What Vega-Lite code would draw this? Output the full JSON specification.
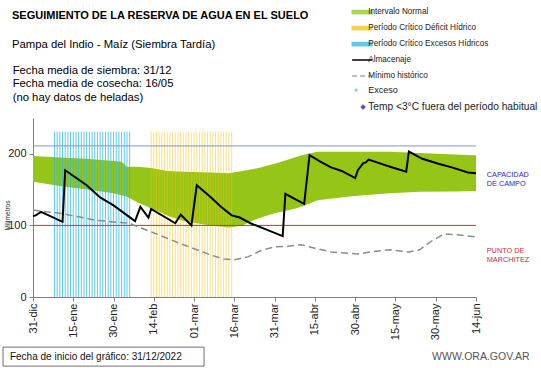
{
  "$schema": "https://vega.github.io/schema/vega-lite/v6.json",
  "width": 443,
  "height": 179,
  "autosize": {"type": "none"},
  "padding": {"left": 33, "top": 118, "right": 65, "bottom": 71},
  "background": "white",
  "title": {
    "text": "SEGUIMIENTO DE LA RESERVA DE AGUA  EN EL SUELO",
    "subtitle": "Pampa del Indio - Maíz  (Siembra Tardía)",
    "anchor": "start",
    "frame": "group",
    "dx": -21,
    "offset": -42,
    "font": "Liberation Sans",
    "fontSize": 11,
    "fontWeight": "bold",
    "color": "#000000",
    "subtitleFont": "Liberation Sans",
    "subtitleFontSize": 11.3,
    "subtitleColor": "#000000",
    "subtitleLineHeight": 13.3,
    "subtitlePadding": 18
  },
  "datasets": {
    "banda": [
      {"fecha": "2022-12-31", "min": 161, "max": 197, "serie": "Intervalo Normal"},
      {"fecha": "2023-01-10", "min": 155, "max": 195, "serie": "Intervalo Normal"},
      {"fecha": "2023-01-20", "min": 150, "max": 193, "serie": "Intervalo Normal"},
      {"fecha": "2023-01-30", "min": 145, "max": 190, "serie": "Intervalo Normal"},
      {"fecha": "2023-02-02", "min": 142, "max": 189, "serie": "Intervalo Normal"},
      {"fecha": "2023-02-04", "min": 140, "max": 182, "serie": "Intervalo Normal"},
      {"fecha": "2023-02-08", "min": 132, "max": 182, "serie": "Intervalo Normal"},
      {"fecha": "2023-02-13", "min": 124, "max": 180, "serie": "Intervalo Normal"},
      {"fecha": "2023-02-19", "min": 114, "max": 176, "serie": "Intervalo Normal"},
      {"fecha": "2023-02-25", "min": 106, "max": 175, "serie": "Intervalo Normal"},
      {"fecha": "2023-03-07", "min": 100, "max": 174, "serie": "Intervalo Normal"},
      {"fecha": "2023-03-14", "min": 97, "max": 173, "serie": "Intervalo Normal"},
      {"fecha": "2023-03-19", "min": 100, "max": 176, "serie": "Intervalo Normal"},
      {"fecha": "2023-03-25", "min": 110, "max": 180, "serie": "Intervalo Normal"},
      {"fecha": "2023-03-31", "min": 117, "max": 186, "serie": "Intervalo Normal"},
      {"fecha": "2023-04-06", "min": 122, "max": 193, "serie": "Intervalo Normal"},
      {"fecha": "2023-04-10", "min": 126, "max": 198, "serie": "Intervalo Normal"},
      {"fecha": "2023-04-16", "min": 135, "max": 203, "serie": "Intervalo Normal"},
      {"fecha": "2023-04-27", "min": 140, "max": 203, "serie": "Intervalo Normal"},
      {"fecha": "2023-05-03", "min": 142, "max": 203, "serie": "Intervalo Normal"},
      {"fecha": "2023-05-13", "min": 145, "max": 203, "serie": "Intervalo Normal"},
      {"fecha": "2023-05-24", "min": 147, "max": 201, "serie": "Intervalo Normal"},
      {"fecha": "2023-06-06", "min": 147.5, "max": 199, "serie": "Intervalo Normal"},
      {"fecha": "2023-06-14", "min": 148, "max": 198, "serie": "Intervalo Normal"}
    ],
    "periodos": [
      {"fecha": "2023-01-08", "serie": "Período Crítico Excesos Hídricos"},
      {"fecha": "2023-01-09", "serie": "Período Crítico Excesos Hídricos"},
      {"fecha": "2023-01-10", "serie": "Período Crítico Excesos Hídricos"},
      {"fecha": "2023-01-11", "serie": "Período Crítico Excesos Hídricos"},
      {"fecha": "2023-01-12", "serie": "Período Crítico Excesos Hídricos"},
      {"fecha": "2023-01-13", "serie": "Período Crítico Excesos Hídricos"},
      {"fecha": "2023-01-14", "serie": "Período Crítico Excesos Hídricos"},
      {"fecha": "2023-01-15", "serie": "Período Crítico Excesos Hídricos"},
      {"fecha": "2023-01-16", "serie": "Período Crítico Excesos Hídricos"},
      {"fecha": "2023-01-17", "serie": "Período Crítico Excesos Hídricos"},
      {"fecha": "2023-01-18", "serie": "Período Crítico Excesos Hídricos"},
      {"fecha": "2023-01-19", "serie": "Período Crítico Excesos Hídricos"},
      {"fecha": "2023-01-20", "serie": "Período Crítico Excesos Hídricos"},
      {"fecha": "2023-01-21", "serie": "Período Crítico Excesos Hídricos"},
      {"fecha": "2023-01-22", "serie": "Período Crítico Excesos Hídricos"},
      {"fecha": "2023-01-23", "serie": "Período Crítico Excesos Hídricos"},
      {"fecha": "2023-01-24", "serie": "Período Crítico Excesos Hídricos"},
      {"fecha": "2023-01-25", "serie": "Período Crítico Excesos Hídricos"},
      {"fecha": "2023-01-26", "serie": "Período Crítico Excesos Hídricos"},
      {"fecha": "2023-01-27", "serie": "Período Crítico Excesos Hídricos"},
      {"fecha": "2023-01-28", "serie": "Período Crítico Excesos Hídricos"},
      {"fecha": "2023-01-29", "serie": "Período Crítico Excesos Hídricos"},
      {"fecha": "2023-01-30", "serie": "Período Crítico Excesos Hídricos"},
      {"fecha": "2023-01-31", "serie": "Período Crítico Excesos Hídricos"},
      {"fecha": "2023-02-01", "serie": "Período Crítico Excesos Hídricos"},
      {"fecha": "2023-02-02", "serie": "Período Crítico Excesos Hídricos"},
      {"fecha": "2023-02-03", "serie": "Período Crítico Excesos Hídricos"},
      {"fecha": "2023-02-04", "serie": "Período Crítico Excesos Hídricos"},
      {"fecha": "2023-02-05", "serie": "Período Crítico Excesos Hídricos"},
      {"fecha": "2023-02-13", "serie": "Período Crítico Déficit Hídrico"},
      {"fecha": "2023-02-14", "serie": "Período Crítico Déficit Hídrico"},
      {"fecha": "2023-02-15", "serie": "Período Crítico Déficit Hídrico"},
      {"fecha": "2023-02-16", "serie": "Período Crítico Déficit Hídrico"},
      {"fecha": "2023-02-17", "serie": "Período Crítico Déficit Hídrico"},
      {"fecha": "2023-02-18", "serie": "Período Crítico Déficit Hídrico"},
      {"fecha": "2023-02-19", "serie": "Período Crítico Déficit Hídrico"},
      {"fecha": "2023-02-20", "serie": "Período Crítico Déficit Hídrico"},
      {"fecha": "2023-02-21", "serie": "Período Crítico Déficit Hídrico"},
      {"fecha": "2023-02-22", "serie": "Período Crítico Déficit Hídrico"},
      {"fecha": "2023-02-23", "serie": "Período Crítico Déficit Hídrico"},
      {"fecha": "2023-02-24", "serie": "Período Crítico Déficit Hídrico"},
      {"fecha": "2023-02-25", "serie": "Período Crítico Déficit Hídrico"},
      {"fecha": "2023-02-26", "serie": "Período Crítico Déficit Hídrico"},
      {"fecha": "2023-02-27", "serie": "Período Crítico Déficit Hídrico"},
      {"fecha": "2023-02-28", "serie": "Período Crítico Déficit Hídrico"},
      {"fecha": "2023-03-01", "serie": "Período Crítico Déficit Hídrico"},
      {"fecha": "2023-03-02", "serie": "Período Crítico Déficit Hídrico"},
      {"fecha": "2023-03-03", "serie": "Período Crítico Déficit Hídrico"},
      {"fecha": "2023-03-04", "serie": "Período Crítico Déficit Hídrico"},
      {"fecha": "2023-03-05", "serie": "Período Crítico Déficit Hídrico"},
      {"fecha": "2023-03-06", "serie": "Período Crítico Déficit Hídrico"},
      {"fecha": "2023-03-07", "serie": "Período Crítico Déficit Hídrico"},
      {"fecha": "2023-03-08", "serie": "Período Crítico Déficit Hídrico"},
      {"fecha": "2023-03-09", "serie": "Período Crítico Déficit Hídrico"},
      {"fecha": "2023-03-10", "serie": "Período Crítico Déficit Hídrico"},
      {"fecha": "2023-03-11", "serie": "Período Crítico Déficit Hídrico"},
      {"fecha": "2023-03-12", "serie": "Período Crítico Déficit Hídrico"},
      {"fecha": "2023-03-13", "serie": "Período Crítico Déficit Hídrico"},
      {"fecha": "2023-03-14", "serie": "Período Crítico Déficit Hídrico"},
      {"fecha": "2023-03-15", "serie": "Período Crítico Déficit Hídrico"}
    ],
    "minimo": [
      {"fecha": "2022-12-31", "valor": 121.5, "serie": "Mínimo histórico"},
      {"fecha": "2023-01-05", "valor": 119, "serie": "Mínimo histórico"},
      {"fecha": "2023-01-10", "valor": 117, "serie": "Mínimo histórico"},
      {"fecha": "2023-01-17", "valor": 112, "serie": "Mínimo histórico"},
      {"fecha": "2023-01-23", "valor": 107.5, "serie": "Mínimo histórico"},
      {"fecha": "2023-02-01", "valor": 104, "serie": "Mínimo histórico"},
      {"fecha": "2023-02-05", "valor": 103, "serie": "Mínimo histórico"},
      {"fecha": "2023-02-08", "valor": 98, "serie": "Mínimo histórico"},
      {"fecha": "2023-02-13", "valor": 91, "serie": "Mínimo histórico"},
      {"fecha": "2023-02-19", "valor": 82, "serie": "Mínimo histórico"},
      {"fecha": "2023-02-25", "valor": 73, "serie": "Mínimo histórico"},
      {"fecha": "2023-03-02", "valor": 66, "serie": "Mínimo histórico"},
      {"fecha": "2023-03-07", "valor": 59, "serie": "Mínimo histórico"},
      {"fecha": "2023-03-12", "valor": 53, "serie": "Mínimo histórico"},
      {"fecha": "2023-03-16", "valor": 52, "serie": "Mínimo histórico"},
      {"fecha": "2023-03-21", "valor": 56, "serie": "Mínimo histórico"},
      {"fecha": "2023-03-26", "valor": 65, "serie": "Mínimo histórico"},
      {"fecha": "2023-03-31", "valor": 70, "serie": "Mínimo histórico"},
      {"fecha": "2023-04-05", "valor": 71, "serie": "Mínimo histórico"},
      {"fecha": "2023-04-10", "valor": 73, "serie": "Mínimo histórico"},
      {"fecha": "2023-04-15", "valor": 68, "serie": "Mínimo histórico"},
      {"fecha": "2023-04-21", "valor": 63, "serie": "Mínimo histórico"},
      {"fecha": "2023-05-01", "valor": 60, "serie": "Mínimo histórico"},
      {"fecha": "2023-05-06", "valor": 63, "serie": "Mínimo histórico"},
      {"fecha": "2023-05-13", "valor": 66, "serie": "Mínimo histórico"},
      {"fecha": "2023-05-20", "valor": 63, "serie": "Mínimo histórico"},
      {"fecha": "2023-05-24", "valor": 66, "serie": "Mínimo histórico"},
      {"fecha": "2023-05-28", "valor": 77, "serie": "Mínimo histórico"},
      {"fecha": "2023-06-02", "valor": 88, "serie": "Mínimo histórico"},
      {"fecha": "2023-06-07", "valor": 87, "serie": "Mínimo histórico"},
      {"fecha": "2023-06-14", "valor": 84, "serie": "Mínimo histórico"}
    ],
    "almacenaje": [
      {"fecha": "2022-12-31", "valor": 113, "serie": "Almacenaje"},
      {"fecha": "2023-01-01", "valor": 114, "serie": "Almacenaje"},
      {"fecha": "2023-01-03", "valor": 119, "serie": "Almacenaje"},
      {"fecha": "2023-01-11", "valor": 105, "serie": "Almacenaje"},
      {"fecha": "2023-01-12", "valor": 177, "serie": "Almacenaje"},
      {"fecha": "2023-01-20", "valor": 156, "serie": "Almacenaje"},
      {"fecha": "2023-01-25", "valor": 139, "serie": "Almacenaje"},
      {"fecha": "2023-01-30", "valor": 128, "serie": "Almacenaje"},
      {"fecha": "2023-02-07", "valor": 106, "serie": "Almacenaje"},
      {"fecha": "2023-02-09", "valor": 126, "serie": "Almacenaje"},
      {"fecha": "2023-02-12", "valor": 111, "serie": "Almacenaje"},
      {"fecha": "2023-02-13", "valor": 123, "serie": "Almacenaje"},
      {"fecha": "2023-02-22", "valor": 103, "serie": "Almacenaje"},
      {"fecha": "2023-02-24", "valor": 115, "serie": "Almacenaje"},
      {"fecha": "2023-02-28", "valor": 100, "serie": "Almacenaje"},
      {"fecha": "2023-03-02", "valor": 156, "serie": "Almacenaje"},
      {"fecha": "2023-03-07", "valor": 140, "serie": "Almacenaje"},
      {"fecha": "2023-03-11", "valor": 126, "serie": "Almacenaje"},
      {"fecha": "2023-03-15", "valor": 114, "serie": "Almacenaje"},
      {"fecha": "2023-03-18", "valor": 111, "serie": "Almacenaje"},
      {"fecha": "2023-03-22", "valor": 103, "serie": "Almacenaje"},
      {"fecha": "2023-03-28", "valor": 94, "serie": "Almacenaje"},
      {"fecha": "2023-04-03", "valor": 85, "serie": "Almacenaje"},
      {"fecha": "2023-04-04", "valor": 144, "serie": "Almacenaje"},
      {"fecha": "2023-04-11", "valor": 130, "serie": "Almacenaje"},
      {"fecha": "2023-04-13", "valor": 198, "serie": "Almacenaje"},
      {"fecha": "2023-04-17", "valor": 189, "serie": "Almacenaje"},
      {"fecha": "2023-04-21", "valor": 181, "serie": "Almacenaje"},
      {"fecha": "2023-04-25", "valor": 176, "serie": "Almacenaje"},
      {"fecha": "2023-04-30", "valor": 166, "serie": "Almacenaje"},
      {"fecha": "2023-05-01", "valor": 177, "serie": "Almacenaje"},
      {"fecha": "2023-05-03", "valor": 187, "serie": "Almacenaje"},
      {"fecha": "2023-05-04", "valor": 188, "serie": "Almacenaje"},
      {"fecha": "2023-05-05", "valor": 192, "serie": "Almacenaje"},
      {"fecha": "2023-05-13", "valor": 182, "serie": "Almacenaje"},
      {"fecha": "2023-05-19", "valor": 175, "serie": "Almacenaje"},
      {"fecha": "2023-05-20", "valor": 203, "serie": "Almacenaje"},
      {"fecha": "2023-05-25", "valor": 193, "serie": "Almacenaje"},
      {"fecha": "2023-05-31", "valor": 186, "serie": "Almacenaje"},
      {"fecha": "2023-06-05", "valor": 181, "serie": "Almacenaje"},
      {"fecha": "2023-06-11", "valor": 174, "serie": "Almacenaje"},
      {"fecha": "2023-06-14", "valor": 173, "serie": "Almacenaje"}
    ]
  },
  "layer": [
    {
      "data": {"name": "banda"},
      "mark": {"type": "area"},
      "encoding": {
        "x": {
          "field": "fecha",
          "type": "temporal",
          "title": null,
          "scale": {
            "type": "utc",
            "nice": false,
            "domain": [
              {"year": 2022, "month": 12, "date": 31, "utc": true},
              {"year": 2023, "month": 6, "date": 14, "utc": true}
            ]
          },
          "axis": {
            "values": [
              {"year": 2022, "month": 12, "date": 31, "utc": true},
              {"year": 2023, "month": 1, "date": 15, "utc": true},
              {"year": 2023, "month": 1, "date": 30, "utc": true},
              {"year": 2023, "month": 2, "date": 14, "utc": true},
              {"year": 2023, "month": 3, "date": 1, "utc": true},
              {"year": 2023, "month": 3, "date": 16, "utc": true},
              {"year": 2023, "month": 3, "date": 31, "utc": true},
              {"year": 2023, "month": 4, "date": 15, "utc": true},
              {"year": 2023, "month": 4, "date": 30, "utc": true},
              {"year": 2023, "month": 5, "date": 15, "utc": true},
              {"year": 2023, "month": 5, "date": 30, "utc": true},
              {"year": 2023, "month": 6, "date": 14, "utc": true}
            ],
            "labelExpr": "utcFormat(datum.value, '%d') + '-' + ['ene','feb','mar','abr','may','jun','jul','ago','sep','oct','nov','dic'][utcmonth(datum.value)]",
            "labelAngle": 270,
            "labelAlign": "right",
            "labelBaseline": "middle",
            "labelFont": "Liberation Sans",
            "labelFontSize": 11,
            "labelColor": "#222222",
            "labelPadding": 2,
            "labelOverlap": false,
            "labelFlush": false,
            "tickSize": 4,
            "tickColor": "#808080",
            "domainColor": "#808080",
            "grid": false
          }
        },
        "y": {
          "field": "min",
          "type": "quantitative",
          "title": "Milímetros",
          "scale": {"domain": [0, 250], "nice": false},
          "axis": {
            "values": [0, 50, 100, 150, 200, 250],
            "grid": false,
            "tickSize": 4,
            "labelPadding": 3,
            "labelFont": "Liberation Sans",
            "labelFontSize": 11,
            "labelColor": "#222222",
            "tickColor": "#808080",
            "domainColor": "#808080",
            "titleFont": "Liberation Sans",
            "titleFontSize": 6.5,
            "titleFontWeight": "normal",
            "titleColor": "#222222",
            "titleAngle": 270,
            "titleAlign": "center",
            "titleBaseline": "middle",
            "titleX": -26,
            "titleY": 97
          }
        },
        "y2": {"field": "max"},
        "color": {
          "field": "serie",
          "type": "nominal",
          "scale": {
            "domain": ["Intervalo Normal", "Período Crítico Déficit Hídrico", "Período Crítico Excesos Hídricos", "Almacenaje", "Mínimo histórico", "Exceso", "Temp <3°C fuera del período habitual"],
            "range": ["#95c617", "#f2c318", "#28b8e8", "#000000", "#8c8c8c", "#33c6e8", "#1f1fa8"]
          },
          "legend": {
            "title": null,
            "orient": "none",
            "legendX": 325,
            "legendY": -110,
            "padding": 0,
            "symbolType": {"expr": "datum.value === 'Exceso' ? 'M-0.69,0A0.09,0.09 0 1,0 -0.51,0A0.09,0.09 0 1,0 -0.69,0Z' : (datum.value === 'Temp <3°C fuera del período habitual' ? 'M0.1,-0.19L0.29,0L0.1,0.19L-0.09,0Z' : (datum.value === 'Almacenaje' || datum.value === 'Mínimo histórico' ? 'M-1,0H1' : 'M-1,-0.18H1V0.18H-1Z'))"},
            "symbolSize": 400,
            "symbolStrokeWidth": {"expr": "datum.value === 'Almacenaje' ? 2 : (datum.value === 'Mínimo histórico' ? 1.5 : 1.2)"},
            "symbolDash": {"expr": "datum.value === 'Mínimo histórico' ? [5, 3] : [1, 0]"},
            "symbolFillColor": {"expr": "scale('color', datum.value)"},
            "symbolStrokeColor": {"expr": "scale('color', datum.value)"},
            "symbolOpacity": 1,
            "labelFont": "Liberation Sans",
            "labelFontSize": {"expr": "datum.value === 'Temp <3°C fuera del período habitual' ? 10.2 : (datum.value === 'Exceso' ? 9 : 8.2)"},
            "labelColor": "#222222",
            "labelOffset": 2,
            "labelLimit": 300,
            "rowPadding": 6
          }
        }
      }
    },
    {
      "data": {"name": "periodos"},
      "mark": {"type": "rule"},
      "encoding": {
        "x": {"field": "fecha", "type": "temporal"},
        "y": {"datum": 0, "type": "quantitative"},
        "y2": {"datum": 231},
        "color": {"field": "serie", "type": "nominal"},
        "opacity": {"condition": {"test": "datum.serie === 'Período Crítico Déficit Hídrico'", "value": 0.5}, "value": 0.75},
        "strokeWidth": {"value": 1}
      }
    },
    {
      "data": {"values": [{}]},
      "mark": {"type": "rule"},
      "encoding": {
        "y": {"datum": 211, "type": "quantitative"},
        "color": {"value": "#7f96cc"},
        "strokeWidth": {"value": 1}
      }
    },
    {
      "data": {"values": [{}]},
      "mark": {"type": "rule"},
      "encoding": {
        "y": {"datum": 100, "type": "quantitative"},
        "color": {"value": "#c0392b"},
        "strokeWidth": {"value": 1}
      }
    },
    {
      "data": {"name": "minimo"},
      "mark": {"type": "line"},
      "encoding": {
        "x": {"field": "fecha", "type": "temporal"},
        "y": {"field": "valor", "type": "quantitative"},
        "color": {"field": "serie", "type": "nominal"},
        "strokeWidth": {"value": 1.5},
        "strokeDash": {"value": [7, 4]}
      }
    },
    {
      "data": {"name": "almacenaje"},
      "mark": {"type": "line"},
      "encoding": {
        "x": {"field": "fecha", "type": "temporal"},
        "y": {"field": "valor", "type": "quantitative"},
        "color": {"field": "serie", "type": "nominal"},
        "strokeWidth": {"value": 2}
      }
    },
    {
      "data": {"values": [{}]},
      "mark": {"type": "text", "align": "left", "baseline": "alphabetic", "font": "Liberation Sans", "fontSize": 11.3},
      "encoding": {
        "x": {"datum": {"year": 2022, "month": 12, "date": 23, "hours": 10, "utc": true}, "type": "temporal"},
        "y": {"datum": 311.5, "type": "quantitative"},
        "text": {"value": "Fecha media de siembra: 31/12"},
        "color": {"value": "#000000"}
      }
    },
    {
      "data": {"values": [{}]},
      "mark": {"type": "text", "align": "left", "baseline": "alphabetic", "font": "Liberation Sans", "fontSize": 11.3},
      "encoding": {
        "x": {"datum": {"year": 2022, "month": 12, "date": 23, "hours": 10, "utc": true}, "type": "temporal"},
        "y": {"datum": 292.9, "type": "quantitative"},
        "text": {"value": "Fecha media de cosecha: 16/05"},
        "color": {"value": "#000000"}
      }
    },
    {
      "data": {"values": [{}]},
      "mark": {"type": "text", "align": "left", "baseline": "alphabetic", "font": "Liberation Sans", "fontSize": 11.3},
      "encoding": {
        "x": {"datum": {"year": 2022, "month": 12, "date": 23, "hours": 10, "utc": true}, "type": "temporal"},
        "y": {"datum": 274.3, "type": "quantitative"},
        "text": {"value": "(no hay  datos de heladas)"},
        "color": {"value": "#000000"}
      }
    },
    {
      "data": {"values": [{}]},
      "mark": {"type": "text", "align": "left", "baseline": "middle", "font": "Liberation Sans", "fontSize": 7.3, "lineHeight": 9},
      "encoding": {
        "x": {"datum": {"year": 2023, "month": 6, "date": 18, "utc": true}, "type": "temporal"},
        "y": {"datum": 171, "type": "quantitative"},
        "text": {"value": ["CAPACIDAD", "DE  CAMPO"]},
        "color": {"value": "#2b2bb0"}
      }
    },
    {
      "data": {"values": [{}]},
      "mark": {"type": "text", "align": "left", "baseline": "middle", "font": "Liberation Sans", "fontSize": 7.3, "lineHeight": 9},
      "encoding": {
        "x": {"datum": {"year": 2023, "month": 6, "date": 18, "utc": true}, "type": "temporal"},
        "y": {"datum": 64, "type": "quantitative"},
        "text": {"value": ["PUNTO   DE", "MARCHITEZ"]},
        "color": {"value": "#c83232"}
      }
    },
    {
      "data": {"values": [{}]},
      "mark": {"type": "rect", "fill": "white", "stroke": "#7a6a6a", "strokeWidth": 1},
      "encoding": {
        "x": {"datum": {"year": 2022, "month": 12, "date": 19, "hours": 20, "utc": true}, "type": "temporal"},
        "x2": {"datum": {"year": 2023, "month": 3, "date": 4, "hours": 17, "utc": true}},
        "y": {"datum": -70, "type": "quantitative"},
        "y2": {"datum": -96.5}
      }
    },
    {
      "data": {"values": [{}]},
      "mark": {"type": "text", "align": "left", "baseline": "alphabetic", "font": "Liberation Sans", "fontSize": 10},
      "encoding": {
        "x": {"datum": {"year": 2022, "month": 12, "date": 22, "hours": 10, "utc": true}, "type": "temporal"},
        "y": {"datum": -88, "type": "quantitative"},
        "text": {"value": "Fecha de inicio del gráfico:  31/12/2022"},
        "color": {"value": "#111111"}
      }
    },
    {
      "data": {"values": [{}]},
      "mark": {"type": "text", "align": "right", "baseline": "middle", "font": "Liberation Sans", "fontSize": 10.5},
      "encoding": {
        "x": {"datum": {"year": 2023, "month": 7, "date": 4, "utc": true}, "type": "temporal"},
        "y": {"datum": -84, "type": "quantitative"},
        "text": {"value": "WWW.ORA.GOV.AR"},
        "color": {"value": "#555555"}
      }
    }
  ],
  "config": {
    "view": {"stroke": null},
    "font": "Liberation Sans"
  }
}
